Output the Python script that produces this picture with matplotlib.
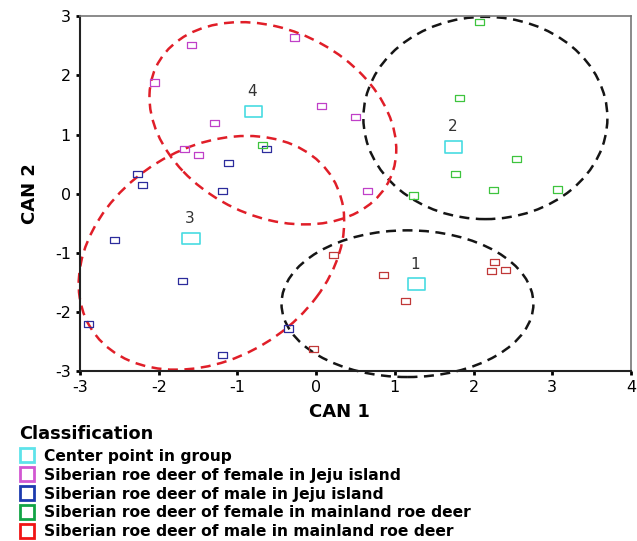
import matplotlib
matplotlib.use('Agg')
import matplotlib.pyplot as plt
from matplotlib.patches import Ellipse
from matplotlib.lines import Line2D
from matplotlib.path import Path
import numpy as np

plt.rcParams['axes.unicode_minus'] = False

# canonical scores
female_jeju_x = [-1.58, -0.27, -2.05, -1.29, 0.07, 0.50, -1.67, -1.50, 0.65]
female_jeju_y = [2.52, 2.64, 1.88, 1.19, 1.48, 1.30, 0.75, 0.66, 0.04]

male_jeju_x = [-0.63, -1.11, -2.27, -2.20, -1.19, -2.56, -1.70, -2.89, -1.19, -0.35]
male_jeju_y = [0.75, 0.52, 0.34, 0.15, 0.04, -0.79, -1.47, -2.21, -2.72, -2.28]

female_main_x = [2.07, 1.82, 2.55, 1.77, 2.25, 3.06, 1.24, -0.68]
female_main_y = [2.90, 1.62, 0.59, 0.34, 0.06, 0.07, -0.03, 0.83]

male_main_x = [0.22, -0.03, 0.85, 1.14, 2.26, 2.23, 2.40]
male_main_y = [-1.03, -2.62, -1.38, -1.81, -1.15, -1.31, -1.29]

center_x = [1.28, 1.75, -1.59, -0.80]
center_y = [-1.53, 0.79, -0.76, 1.39]
center_labels = ['1', '2', '3', '4']

# group ellipses: center, width, height, angle, colour
ellipse_cx = [1.16, 2.15, -1.33, -0.55]
ellipse_cy = [-1.86, 1.28, -1.00, 1.19]
ellipse_w = [3.20, 3.10, 4.20, 3.70]
ellipse_h = [2.48, 3.42, 3.06, 2.80]
ellipse_ang = [0, 0, 60.4, -54.3]
ellipse_col = ['#151515', '#151515', '#e01e28', '#e01e28']

legend_labels = ['Center point in group',
                 'Siberian roe deer of female in Jeju island',
                 'Siberian roe deer of male in Jeju island',
                 'Siberian roe deer of female in mainland roe deer',
                 'Siberian roe deer of male in mainland roe deer']
legend_colors = ['#5ee3ea', '#d257d2', '#1c3aae', '#12a345', '#f01414']

# flat rectangle marker like the original
rect = Path([(-1, -0.68), (1, -0.68), (1, 0.68), (-1, 0.68), (-1, -0.68)],
            [Path.MOVETO, Path.LINETO, Path.LINETO, Path.LINETO, Path.CLOSEPOLY])

fig = plt.figure(figsize=(6.37, 5.41), dpi=100)
ax = fig.add_axes([0.1256, 0.314, 0.865, 0.656])

for cx, cy, w, h, a, c in zip(ellipse_cx, ellipse_cy, ellipse_w, ellipse_h, ellipse_ang, ellipse_col):
    e = Ellipse((cx, cy), w, h, angle=a, fill=False, edgecolor=c, lw=1.8,
                linestyle=(0, (4, 2.6)), clip_on=False, zorder=1)
    ax.add_patch(e)

kw = dict(marker=rect, s=42, facecolors='none', linewidths=0.9, zorder=3)
ax.scatter(female_jeju_x, female_jeju_y, edgecolors='#c040c8', **kw)
ax.scatter(male_jeju_x, male_jeju_y, edgecolors='#2c2c9c', **kw)
ax.scatter(female_main_x, female_main_y, edgecolors='#3ec43e', **kw)
ax.scatter(male_main_x, male_main_y, edgecolors='#c03838', **kw)
ax.scatter(center_x, center_y, marker=rect, s=150, facecolors='none',
           edgecolors='#48dbe2', linewidths=1.2, zorder=4)

for x, y, t in zip(center_x, center_y, center_labels):
    ax.annotate(t, (x, y), xytext=(-1, 9), textcoords='offset points',
                ha='center', va='bottom', fontsize=11, color='#333333')

ax.set_xlim(-3, 4)
ax.set_ylim(-3, 3)
ax.set_xticks(range(-3, 5))
ax.set_yticks(range(-3, 4))
ax.tick_params(direction='out', length=3, width=2, labelsize=11.5, colors='black')
for s in ['top', 'right']:
    ax.spines[s].set_color('#777777')
    ax.spines[s].set_linewidth(1.2)
for s in ['left', 'bottom']:
    ax.spines[s].set_color('#222222')
    ax.spines[s].set_linewidth(1.5)

ax.set_xlabel('CAN 1', fontsize=13, fontweight='bold')
ax.xaxis.set_label_coords(0.47, -0.09)
ax.set_ylabel('CAN 2', fontsize=13, fontweight='bold')
ax.yaxis.set_label_coords(-0.075, 0.5)

handles = [Line2D([], [], linestyle='none', marker='s', markersize=10,
                  markerfacecolor='none', markeredgecolor=c, markeredgewidth=2)
           for c in legend_colors]
leg = fig.legend(handles, legend_labels, loc='upper left',
                 bbox_to_anchor=(0.03, 0.214), frameon=False,
                 title='Classification', alignment='left',
                 prop={'weight': 'bold', 'size': 11.2},
                 title_fontproperties={'weight': 'bold', 'size': 12.8},
                 handlelength=1.0, handletextpad=0.6, labelspacing=0.25,
                 borderpad=0, borderaxespad=0)
leg._legend_box.sep = 4

fig.savefig('out.png', dpi=100)
